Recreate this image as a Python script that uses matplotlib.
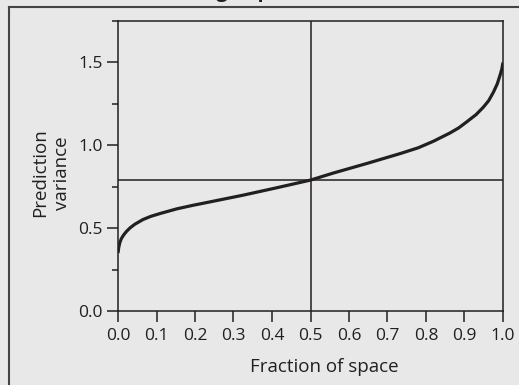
import matplotlib
matplotlib.use('Agg')
import matplotlib.pyplot as plt
from matplotlib.lines import Line2D
from matplotlib.ticker import MultipleLocator

plt.rcParams['font.family'] = ['Open Sans', 'DejaVu Sans']

# curve
frac = [0.0, 0.002, 0.005, 0.009, 0.015, 0.022, 0.032, 0.044, 0.065, 0.085,
        0.109, 0.152, 0.195, 0.238, 0.325, 0.411, 0.5, 0.56, 0.646, 0.733,
        0.78, 0.819, 0.862, 0.885, 0.905, 0.93, 0.949, 0.963, 0.975, 0.985,
        0.992, 0.997, 1.0]
pvar = [0.35, 0.385, 0.415, 0.438, 0.46, 0.48, 0.503, 0.524, 0.552, 0.571,
        0.588, 0.616, 0.638, 0.658, 0.699, 0.743, 0.79, 0.833, 0.89, 0.95,
        0.985, 1.024, 1.074, 1.105, 1.14, 1.185, 1.23, 1.27, 1.32, 1.37,
        1.42, 1.46, 1.50]
ref_x = 0.5
ref_y = 0.79
xticks = [0.0, 0.1, 0.2, 0.3, 0.4, 0.5, 0.6, 0.7, 0.8, 0.9, 1.0]
yticks = [0.0, 0.5, 1.0, 1.5]

bg = '#e7e8e7'
ink = '#231f20'
fig = plt.figure(figsize=(5.19, 3.85), dpi=100, facecolor=bg)
W, H = 519, 385
ax = fig.add_axes([118 / W, 1 - 311 / H, (503 - 118) / W, (311 - 21) / H])
ax.set_facecolor(bg)

ax.plot(frac, pvar, color=ink, lw=2.3, solid_capstyle='butt',
        solid_joinstyle='round', zorder=3)
ax.axvline(ref_x, color=ink, lw=1.1, zorder=2)
ax.axhline(ref_y, color=ink, lw=1.1, zorder=2)

ax.set_xlim(0, 1)
ax.set_ylim(0, 1.75)
ax.set_xticks(xticks)
ax.set_yticks(yticks)
ax.set_xticklabels(['%.1f' % v for v in xticks])
ax.set_yticklabels(['%.1f' % v for v in yticks])
ax.yaxis.set_minor_locator(MultipleLocator(0.25))
ax.tick_params(axis='both', which='major', direction='out', length=8, width=1.1,
               color=ink, labelsize=12.5, labelcolor=ink, pad=3)
ax.tick_params(axis='x', which='major', pad=4)
ax.tick_params(axis='y', which='minor', direction='out', length=4, width=1.1,
               color=ink)
for s in ax.spines.values():
    s.set_color(ink)
    s.set_linewidth(1.1)

fig.text(324 / W, 1 - 367 / H, 'Fraction of space', ha='center', va='center',
         fontsize=13.5, color=ink)
fig.text(51 / W, 1 - 173 / H, 'Prediction\nvariance', ha='center', va='center',
         rotation=90, fontsize=13.5, color=ink, linespacing=1.3)

# outer frame: only left and top edges are visible
fig.add_artist(Line2D([9 / W, 9 / W], [0, 1 - 7 / H], transform=fig.transFigure,
                      color='#444444', lw=1.5))
fig.add_artist(Line2D([9 / W, 1], [1 - 7 / H, 1 - 7 / H], transform=fig.transFigure,
                      color='#444444', lw=1.5))

# title sits mostly above the crop
fig.text(182 / W, 1 + 3 / H, 'Fraction of Design Space', ha='center', va='baseline',
         fontsize=14.5, fontweight='bold', color=ink)

fig.savefig('out.png', dpi=100, facecolor=bg)
